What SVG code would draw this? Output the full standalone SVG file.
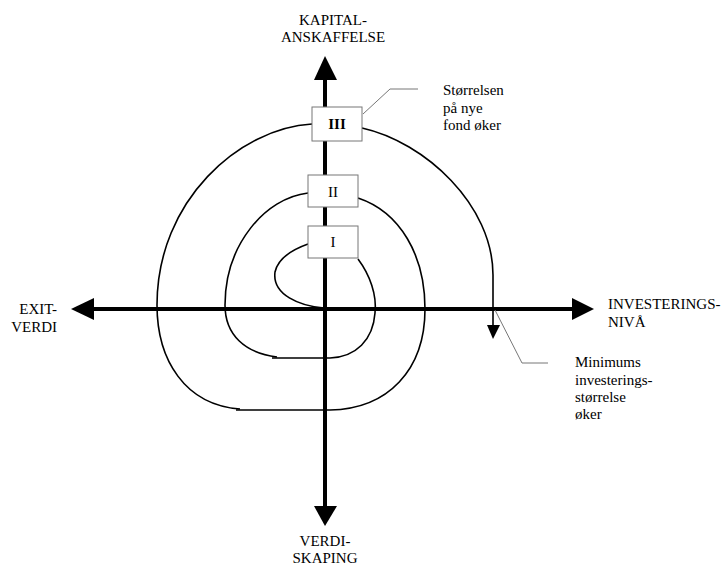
<svg xmlns="http://www.w3.org/2000/svg" width="721" height="566" viewBox="0 0 721 566">
<style>
.t{font-family:"Liberation Serif","Times New Roman",serif;font-size:15px;fill:#000}
.ax{stroke:#000;stroke-width:4;fill:none}
.sp{stroke:#000;stroke-width:1.6;fill:none}
.ld{stroke:#777;stroke-width:1;fill:none}
.bx{fill:#fff;stroke:#777;stroke-width:1}
</style>
<rect width="721" height="566" fill="#fff"/>
<g id="connectors">
<line class="ax" x1="325" y1="78" x2="325" y2="509"/>
<line class="ax" x1="91" y1="309" x2="575" y2="309"/>
<polygon points="325,56 314,80 337,80"/>
<polygon points="325,526 314,506 337,506"/>
<polygon points="71,309 94,298 94,320"/>
<polygon points="594,309 572,298 572,320"/>
<path class="sp" d="M324,308 C300,306 272,295 275,272 C278,258 294,249 308,244"/>
<path class="sp" d="M358,259 C370,275 377,295 375,313 C373,340 356,357 330,358 L272,358"/>
<path class="sp" d="M277,357 C245,353 225,335 225,305 C225,245 265,198 308,193"/>
<path class="sp" d="M358,198 C400,212 425,255 425,309 C425,370 388,409 330,410 L236,410"/>
<path class="sp" d="M240,409 C185,405 157,360 157,305 C157,200 240,128 312,124"/>
<path class="sp" d="M362,128 C425,142 493,205 493,275 L493,326"/>
<polygon points="487,325 500,325 493,339"/>
<polyline class="ld" points="363,114 390,89 418,89"/>
<polyline class="ld" points="495,310 522,363 548,363"/>
</g>
<g id="box-III"><rect class="bx" x="312" y="107" width="50" height="34"/><text class="t" x="337" y="129" text-anchor="middle" font-weight="bold">III</text></g>
<g id="box-II"><rect class="bx" x="308" y="175" width="50" height="32"/><text class="t" x="333" y="197" text-anchor="middle">II</text></g>
<g id="box-I"><rect class="bx" x="308" y="226" width="50" height="32"/><text class="t" x="333" y="247" text-anchor="middle">I</text></g>
<g id="label-top"><text class="t" x="333" y="25" text-anchor="middle">KAPITAL-</text><text class="t" x="333" y="42" text-anchor="middle">ANSKAFFELSE</text></g>
<g id="label-bottom"><text class="t" x="325" y="546" text-anchor="middle">VERDI-</text><text class="t" x="325" y="563" text-anchor="middle">SKAPING</text></g>
<g id="label-left"><text class="t" x="57" y="314" text-anchor="end">EXIT-</text><text class="t" x="57" y="332" text-anchor="end">VERDI</text></g>
<g id="label-right"><text class="t" x="608" y="309">INVESTERINGS-</text><text class="t" x="608" y="327">NIVÅ</text></g>
<g id="note-fond"><text class="t" x="443" y="95">Størrelsen</text><text class="t" x="443" y="112.5">på nye</text><text class="t" x="443" y="130">fond øker</text></g>
<g id="note-min"><text class="t" x="575" y="367">Minimums</text><text class="t" x="575" y="385">investerings-</text><text class="t" x="575" y="402">størrelse</text><text class="t" x="575" y="419">øker</text></g>
</svg>
